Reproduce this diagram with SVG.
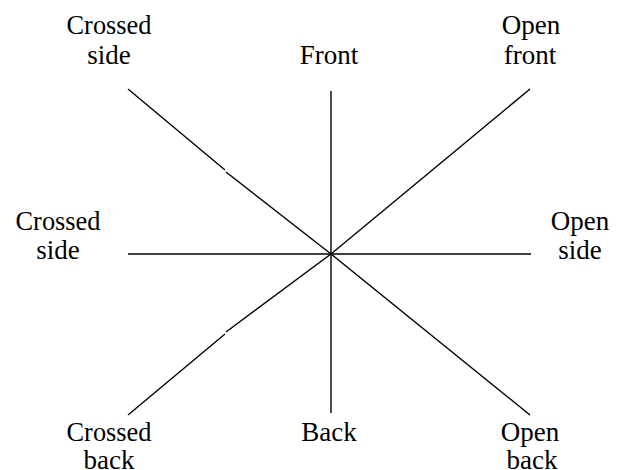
<svg xmlns="http://www.w3.org/2000/svg" width="622" height="470" viewBox="0 0 622 470">
<style>
.t{font-family:"Liberation Serif","Times New Roman",serif;font-size:27px;fill:#000;text-anchor:middle}
.c line{stroke:#000;stroke-width:1.4;stroke-linecap:butt}
</style>
<rect width="622" height="470" fill="#fff"/>
<g class="c" id="connectors">
<line x1="331" y1="91" x2="331" y2="254"/>
<line x1="331" y1="254" x2="331" y2="413"/>
<line x1="128" y1="254" x2="531" y2="254"/>
<line x1="128" y1="89" x2="225" y2="170"/>
<line x1="226" y1="172" x2="331" y2="254"/>
<line x1="331" y1="254" x2="530" y2="89"/>
<line x1="331" y1="254" x2="226" y2="332"/>
<line x1="225" y1="334" x2="128" y2="415"/>
<line x1="331" y1="254" x2="530" y2="415"/>
</g>
<g id="n-crossed-side-top"><text class="t" x="109" y="34" textLength="85" lengthAdjust="spacingAndGlyphs">Crossed</text><text class="t" x="109" y="64">side</text></g>
<g id="n-front"><text class="t" x="329" y="64">Front</text></g>
<g id="n-open-front"><text class="t" x="531" y="34">Open</text><text class="t" x="530" y="64">front</text></g>
<g id="n-crossed-side"><text class="t" x="58" y="230" textLength="85" lengthAdjust="spacingAndGlyphs">Crossed</text><text class="t" x="58" y="259">side</text></g>
<g id="n-open-side"><text class="t" x="580" y="230">Open</text><text class="t" x="580" y="259">side</text></g>
<g id="n-crossed-back"><text class="t" x="109" y="441" textLength="85" lengthAdjust="spacingAndGlyphs">Crossed</text><text class="t" x="109" y="469">back</text></g>
<g id="n-back"><text class="t" x="329" y="441">Back</text></g>
<g id="n-open-back"><text class="t" x="530" y="441">Open</text><text class="t" x="532" y="469">back</text></g>
</svg>
